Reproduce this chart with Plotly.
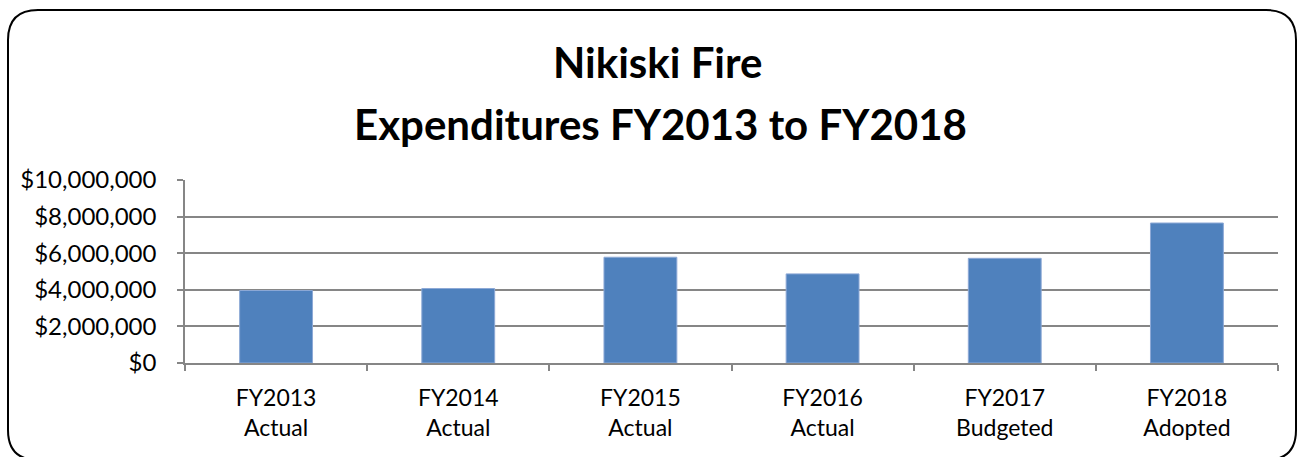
import plotly.graph_objects as go

categories = ["FY2013<br>Actual", "FY2014<br>Actual", "FY2015<br>Actual",
              "FY2016<br>Actual", "FY2017<br>Budgeted", "FY2018<br>Adopted"]
expenditures = [3960000, 4070000, 5780000, 4870000, 5720000, 7650000]
title_line1 = "Nikiski Fire"
title_line2 = "Expenditures FY2013 to FY2018"

W, H = 1304, 457
L, R, T, B = 185, 26, 180, 94
pw, ph = W - L - R, H - T - B

def px2x(px):
    return (px - L) / pw

def py2y(py):
    return (H - B - py) / ph

FONT = "Lato"

fig = go.Figure(go.Bar(
    x=categories, y=expenditures,
    marker=dict(color="#4F81BD", line=dict(color="#8DA9D6", width=1)),
    width=0.4,
))

# rounded outer border
x0, x1 = px2x(8), px2x(1296)
y0, y1 = py2y(460), py2y(10)
rx, ry = 30 / pw, 30 / ph
path = (f"M {x0+rx},{y1} L {x1-rx},{y1} Q {x1},{y1} {x1},{y1-ry} "
        f"L {x1},{y0+ry} Q {x1},{y0} {x1-rx},{y0} L {x0+rx},{y0} "
        f"Q {x0},{y0} {x0},{y0+ry} L {x0},{y1-ry} Q {x0},{y1} {x0+rx},{y1} Z")
fig.add_shape(type="path", path=path, xref="paper", yref="paper",
              line=dict(color="black", width=2), layer="below")

fig.add_annotation(text=f"<b>{title_line1}</b>", x=px2x(658), y=py2y(62),
                   xref="paper", yref="paper", showarrow=False,
                   font=dict(family=FONT, size=42, color="black"),
                   xanchor="center", yanchor="middle")
fig.add_annotation(text=f"<b>{title_line2}</b>", x=px2x(660), y=py2y(124),
                   xref="paper", yref="paper", showarrow=False,
                   font=dict(family=FONT, size=42, color="black"),
                   xanchor="center", yanchor="middle")

fig.update_layout(
    width=W, height=H,
    margin=dict(l=L, r=R, t=T, b=B, pad=0),
    paper_bgcolor="white", plot_bgcolor="white",
    showlegend=False,
    font=dict(family=FONT, size=23, color="black"),
)
fig.update_xaxes(
    showline=True, linecolor="#868686", linewidth=1.5,
    ticks="outside", tickson="boundaries", ticklen=6, tickcolor="#868686",
    tickwidth=1.5, showgrid=False, ticklabelstandoff=14,
    tickfont=dict(family=FONT, size=23, color="black"),
)
fig.update_yaxes(
    range=[0, 10000000], dtick=2000000, tickprefix="$", tickformat=",d",
    showline=True, linecolor="#868686", linewidth=1.5,
    ticks="outside", ticklen=6, tickcolor="#868686", tickwidth=1.5,
    showgrid=True, gridcolor="#868686", gridwidth=1.5, zeroline=False,
    ticklabelstandoff=16,
    tickfont=dict(family=FONT, size=24, color="black"),
)

fig.write_html("out.html", config={"displayModeBar": False},
               post_script="document.body.style.margin='0';")
